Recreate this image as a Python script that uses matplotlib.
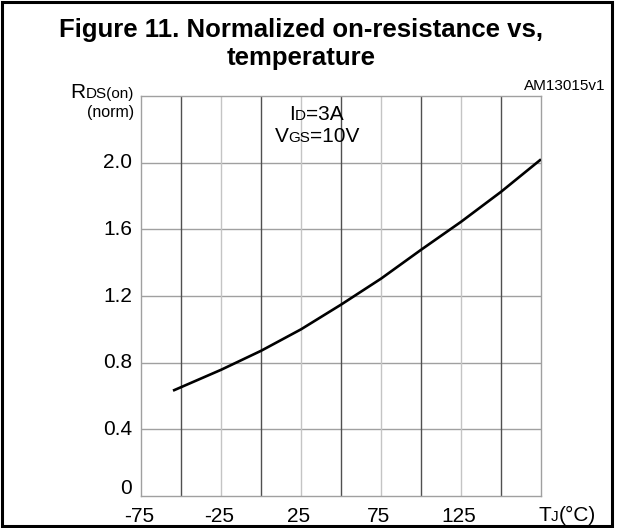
import matplotlib
matplotlib.use("Agg")
import matplotlib.pyplot as plt
from matplotlib.offsetbox import TextArea, HPacker, AnnotationBbox
from matplotlib.patches import Rectangle

plt.rcParams['font.family'] = ['Liberation Sans', 'DejaVu Sans']

# Data
temps = [-55, -25, 0, 25, 50, 75, 100, 125, 150, 175]
rds_norm = [0.632, 0.757, 0.871, 1.0, 1.148, 1.304, 1.477, 1.645, 1.825, 2.02]

x_tick_labels = [-75, -25, 25, 75, 125]
y_tick_vals = [0, 0.4, 0.8, 1.2, 1.6, 2.0]
y_tick_labels = ["0", "0.4", "0.8", "1.2", "1.6", "2.0"]
major_vgrid = [-50, 0, 50, 100, 150]
minor_vgrid = [-25, 25, 75, 125]
hgrid = [0.4, 0.8, 1.2, 1.6, 2.0]

W, H = 617, 528
fig = plt.figure(figsize=(W / 100, H / 100), dpi=100)

def fx(px):
    return px / W

def fy(py):
    return 1 - py / H

ax = fig.add_axes([fx(141), fy(496), fx(541) - fx(141), fy(96) - fy(496)])
ax.set_xlim(-75, 175)
ax.set_ylim(0, 2.4)
ax.set_xticks([])
ax.set_yticks([])
for s in ax.spines.values():
    s.set_color('#a0a0a0')
    s.set_linewidth(1.0)

for v in hgrid:
    ax.axhline(v, color='#a0a0a0', lw=1.0, zorder=1)
for v in minor_vgrid:
    ax.axvline(v, color='#c4c4c4', lw=1.0, zorder=1)
for v in major_vgrid:
    ax.axvline(v, color='#505050', lw=1.0, zorder=1)

ax.plot(temps, rds_norm, color='black', lw=1.9, zorder=3, solid_capstyle='butt')

# Tick labels
tick_fs = 15
for v in x_tick_labels:
    ax.annotate(str(v), xy=(v, 0), xycoords='data', xytext=(-2, -20),
                textcoords='offset pixels', ha='center', va='center',
                fontsize=tick_fs, annotation_clip=False)
for v, lab in zip(y_tick_vals, y_tick_labels):
    dy = 7 if v == 0 else 0
    ax.annotate(lab, xy=(-75, v), xycoords='data', xytext=(-9, dy),
                textcoords='offset pixels', ha='right', va='center',
                fontsize=tick_fs, annotation_clip=False)

def mixed(parts, xy, align):
    areas = [TextArea(t, textprops=dict(size=sz, color='black')) for t, sz in parts]
    pack = HPacker(children=areas, align='baseline', pad=0, sep=0)
    ab = AnnotationBbox(pack, xy, xycoords='figure fraction', box_alignment=align,
                        frameon=False, pad=0, annotation_clip=False)
    fig.add_artist(ab)

big, small = 15, 11
# Y axis label
mixed([("R", big), ("DS(on)", small)], (fx(134), fy(92)), (1, 0.5))
fig.text(fx(134), fy(113), "(norm)", ha='right', va='center', fontsize=11.5)
# X axis label
mixed([("T", big), ("J", small), ("(°C)", big)], (fx(567), fy(515)), (0.5, 0.5))
# Conditions
mixed([("I", big), ("D", small), ("=3A", big)], (fx(316), fy(114)), (0.5, 0.5))
mixed([("V", big), ("GS", small), ("=10V", big)], (fx(317), fy(136)), (0.5, 0.5))

# Title and reference
fig.text(fx(301), fy(30), "Figure 11. Normalized on-resistance vs,", ha='center', va='center',
         fontsize=18.5, fontweight='bold')
fig.text(fx(301), fy(58), "temperature", ha='center', va='center',
         fontsize=18.5, fontweight='bold')
fig.text(fx(605), fy(86), "AM13015v1", ha='right', va='center', fontsize=11)

# Outer border
fig.add_artist(Rectangle((fx(2), fy(526)), fx(612) - fx(2), fy(2) - fy(526),
                         transform=fig.transFigure, fill=False, edgecolor='black', lw=2.2))

fig.savefig("out.png", dpi=100)
